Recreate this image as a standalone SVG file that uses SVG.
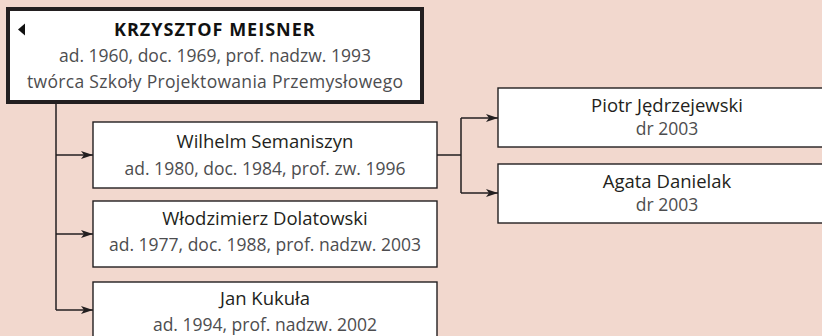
<svg xmlns="http://www.w3.org/2000/svg" width="822" height="336" viewBox="0 0 822 336">
<defs>
<style>
.bg{fill:#f2d8ce}
.box{fill:#fff;stroke:#231f20;stroke-width:1.4}
.main{fill:#fff;stroke:#231f20;stroke-width:4}
.name{font-family:"Open Sans","Liberation Sans",sans-serif;font-size:18.5px;fill:#231f20;text-anchor:middle}
.det{font-family:"Open Sans","Liberation Sans",sans-serif;font-size:17.5px;fill:#4d4d4f;text-anchor:middle}
.title{font-family:"Open Sans","Liberation Sans",sans-serif;font-size:18px;font-weight:bold;fill:#111;letter-spacing:1px}
.con{fill:none;stroke:#231f20;stroke-width:1.5}
</style>
<marker id="arr" viewBox="0 0 12 8" refX="12" refY="4" markerWidth="12" markerHeight="8" markerUnits="userSpaceOnUse" orient="auto">
<path d="M0,0 L12,4 L0,8 L3,4 z" fill="#231f20"/>
</marker>
</defs>
<rect class="bg" x="0" y="0" width="822" height="336"/>
<g id="connectors">
<path class="con" d="M56,103 V310"/>
<path class="con" d="M56,155 H93" marker-end="url(#arr)"/>
<path class="con" d="M56,234 H93" marker-end="url(#arr)"/>
<path class="con" d="M56,310 H93" marker-end="url(#arr)"/>
<path class="con" d="M437,155 H461 M461,118 V193"/>
<path class="con" d="M461,118 H498" marker-end="url(#arr)"/>
<path class="con" d="M461,193 H498" marker-end="url(#arr)"/>
</g>
<g id="meisner">
<rect class="main" x="8" y="9" width="414" height="93"/>
<path d="M18,29.5 L25,23.5 L25,35.5 z" fill="#111"/>
<text class="title" x="114" y="36">KRZYSZTOF MEISNER</text>
<text class="det" x="215" y="62">ad. 1960, doc. 1969, prof. nadzw. 1993</text>
<text class="det" x="215" y="88" textLength="376" lengthAdjust="spacing">twórca Szkoły Projektowania Przemysłowego</text>
</g>
<g id="semaniszyn">
<rect class="box" x="93" y="122" width="344" height="66"/>
<text class="name" x="265" y="148">Wilhelm Semaniszyn</text>
<text class="det" x="265" y="175">ad. 1980, doc. 1984, prof. zw. 1996</text>
</g>
<g id="dolatowski">
<rect class="box" x="93" y="201" width="344" height="66"/>
<text class="name" x="265" y="225">Włodzimierz Dolatowski</text>
<text class="det" x="265" y="251">ad. 1977, doc. 1988, prof. nadzw. 2003</text>
</g>
<g id="kukula">
<rect class="box" x="93" y="282" width="344" height="66"/>
<text class="name" x="265" y="305">Jan Kukuła</text>
<text class="det" x="265" y="331">ad. 1994, prof. nadzw. 2002</text>
</g>
<g id="jedrzejewski">
<rect class="box" x="498" y="88" width="340" height="59"/>
<text class="name" x="667" y="112">Piotr Jędrzejewski</text>
<text class="det" x="667" y="135">dr 2003</text>
</g>
<g id="danielak">
<rect class="box" x="498" y="164" width="340" height="59"/>
<text class="name" x="667" y="188">Agata Danielak</text>
<text class="det" x="667" y="211">dr 2003</text>
</g>
</svg>
